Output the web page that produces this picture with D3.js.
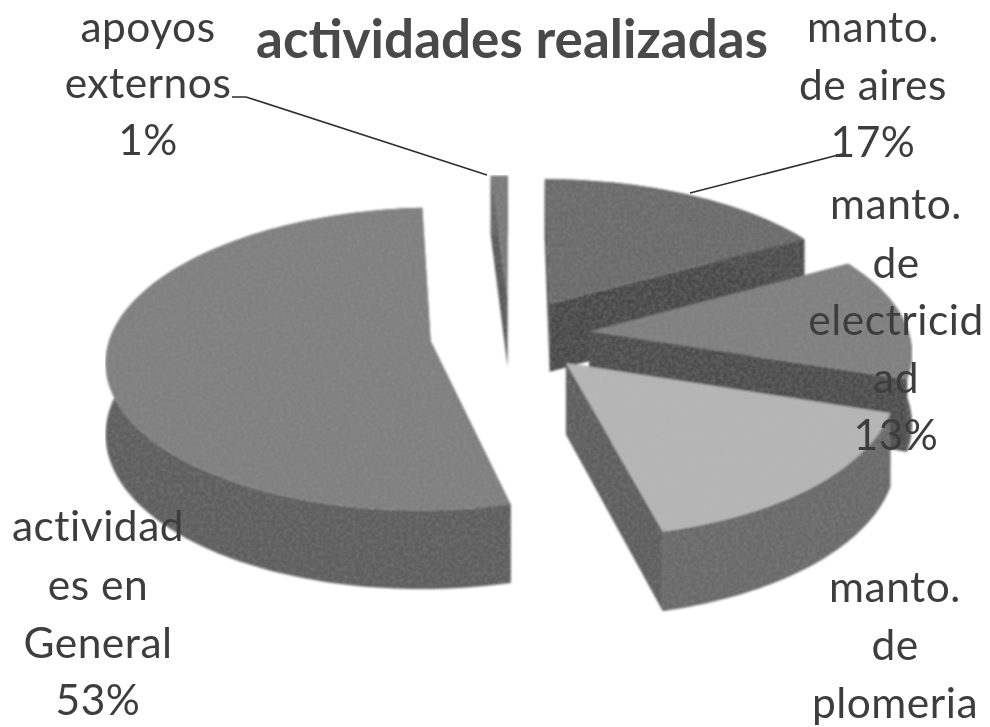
<!DOCTYPE html>
<html><head><meta charset="utf-8">
<script src="https://cdn.jsdelivr.net/npm/d3@7/dist/d3.min.js"></script>
<style>html,body{margin:0;padding:0;background:#fff}svg{display:block}</style>
</head><body><svg id="c" width="990" height="727"></svg>
<script>
const categories = ["apoyos externos","manto. de aires","manto. de electricidad","manto. de plomeria","actividades en General"];
const values = [1,17,13,16,53];
const topColors = ["#7a7a7a","#6c6c6c","#808080","#b6b6b6","#808080"];
const outerColors = ["#666666","#4e4e4e","#555555","#6b6b6b","#5e5e5e"];
const cutColors = ["#5a5a5a","#4a4a4a","#4d4d4d","#5e5e5e","#5e5e5e"];
const drawOrder = [0,4,1,2,3];
const titleText = "actividades realizadas";
const labelLines = [
  {x:148,lines:[["apoyos",42],["externos",98],["1%",155]]},
  {x:873,lines:[["manto.",42],["de aires",100],["17%",157]]},
  {x:896,lines:[["manto.",219],["de",278],["electricid",335],["ad",393],["13%",450]]},
  {x:895,lines:[["manto.",602],["de",660],["plomeria",718]]},
  {x:98,lines:[["actividad",541],["es en",600],["General",658],["53%",715]]}
];
const leaders = [[[232,97],[246,97],[487,175]],[[690,193],[846,153]]];

const svg = d3.select("#c");
const defs = svg.append("defs");
const grain = defs.append("filter").attr("id","grain").attr("x",0).attr("y",0).attr("width","100%").attr("height","100%");
grain.append("feTurbulence").attr("type","fractalNoise").attr("baseFrequency",0.25).attr("numOctaves",3).attr("seed",4).attr("result","n");
grain.append("feColorMatrix").attr("in","n").attr("type","matrix")
  .attr("values","0 0 0 0 0.42  0 0 0 0 0.42  0 0 0 0 0.42  0.25 0 0 0 -0.08").attr("result","g");
grain.append("feGaussianBlur").attr("in","SourceGraphic").attr("stdDeviation",0.8).attr("result","s");
grain.append("feComposite").attr("in","g").attr("in2","s").attr("operator","in").attr("result","gc");
const mrg = grain.append("feMerge");
mrg.append("feMergeNode").attr("in","s");
mrg.append("feMergeNode").attr("in","gc");
const soft = defs.append("filter").attr("id","soft");
soft.append("feGaussianBlur").attr("stdDeviation",0.55);

const cx=510, cy=335, rx=320, ry=150, persp=0.12, depth=70, explode=0.25;
const arcs = d3.pie().sort(null).startAngle(-3.6*Math.PI/180).endAngle(2*Math.PI-3.6*Math.PI/180)(values);
const line = d3.line();
function project(a,r,m,drop){
  const u = r*Math.sin(a)+explode*Math.sin(m);
  const v = -r*Math.cos(a)-explode*Math.cos(m);
  const f = 1+persp*v;
  return [cx+rx*u*f, cy+ry*v*f+(drop?depth*f:0)];
}
const pieG = svg.append("g").attr("filter","url(#grain)");
drawOrder.forEach(i=>{
  const d=arcs[i], m=(d.startAngle+d.endAngle)/2;
  const n=Math.max(6,Math.ceil((d.endAngle-d.startAngle)*40));
  const as=d3.range(n+1).map(k=>d.startAngle+(d.endAngle-d.startAngle)*k/n);
  const g=pieG.append("g").attr("class","slice");
  const tip=project(0,0,m,false), tipB=project(0,0,m,true);
  [d.startAngle,d.endAngle].forEach(a=>{
    g.append("path").attr("d",line([tip,project(a,1,m,false),project(a,1,m,true),tipB])+"Z").attr("fill",cutColors[i]);
  });
  const outer=as.map(a=>project(a,1,m,false)).concat(as.slice().reverse().map(a=>project(a,1,m,true)));
  g.append("path").attr("d",line(outer)+"Z").attr("fill",outerColors[i]);
  g.append("path").attr("d",line([tip].concat(as.map(a=>project(a,1,m,false))))+"Z").attr("fill",topColors[i]);
});
const ink="#3e3e3e";
const textG=svg.append("g").attr("filter","url(#soft)");
leaders.forEach(p=>textG.append("path").attr("d",line(p)).attr("fill","none").attr("stroke","#2e2e2e").attr("stroke-width",1.6));
labelLines.forEach(l=>l.lines.forEach(t=>{
  textG.append("text").attr("x",l.x).attr("y",t[1]).attr("text-anchor","middle")
    .attr("font-family","Lato, 'Open Sans', sans-serif").attr("font-size",42.5).attr("letter-spacing",0.5).attr("fill",ink).text(t[0]);
}));
textG.append("text").attr("x",512).attr("y",58).attr("text-anchor","middle")
  .attr("font-family","Lato, 'Open Sans', sans-serif").attr("font-weight",700).attr("font-size",53).attr("fill","#484848").text(titleText);
</script></body></html>
